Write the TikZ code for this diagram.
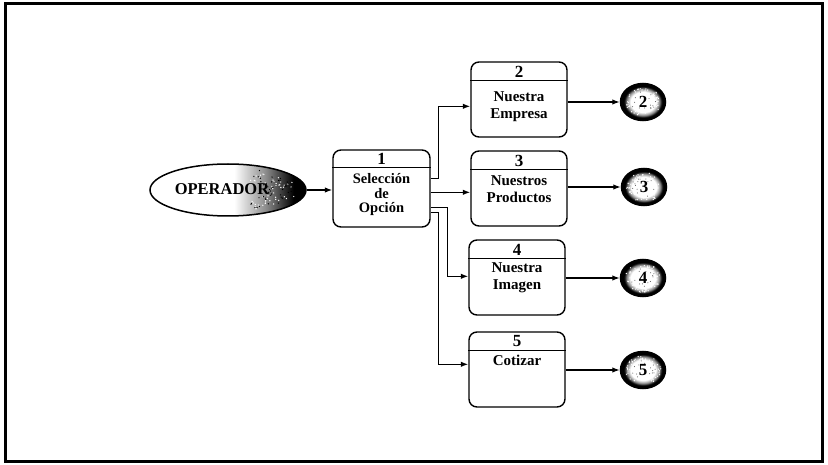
\documentclass[tikz,border=0pt]{standalone}
\usepackage{fontspec}
\setmainfont{Liberation Serif}
\usetikzlibrary{shapes.geometric,arrows.meta,calc}

% white on the left, darkening to black at the right tip
\pgfdeclarehorizontalshading{opshade}{100bp}{color(0bp)=(white); color(52bp)=(white); color(62bp)=(black!45); color(71bp)=(black); color(100bp)=(black)}
% white centre fading into a black ring
\pgfdeclareradialshading{burst}{\pgfpoint{0bp}{0bp}}{color(0bp)=(white); color(14bp)=(white); color(18bp)=(black!45); color(21bp)=(black); color(50bp)=(black)}

\begin{document}
\begin{tikzpicture}[x=1pt,y=-1pt,
  proc/.style={draw, line width=1.4pt, rounded corners=8pt, minimum width=96pt, minimum height=75pt, inner sep=0pt},
  lbl/.style={font=\fontsize{15}{17}\selectfont\bfseries, inner sep=0pt, align=center},
  num/.style={font=\fontsize{17}{17}\selectfont\bfseries, inner sep=0pt},
  divider/.style={line width=1.2pt},
  flow/.style={line width=1.3pt, -{Latex[length=7.5pt,width=5.5pt]}},
  term/.style={ellipse, draw, line width=1.5pt, shading=burst, minimum width=45pt, minimum height=37pt, inner sep=0pt},
  termnum/.style={font=\fontsize{17}{17}\selectfont\bfseries, inner sep=0pt}
]
\useasboundingbox (0,0) rectangle (828,465);
\fill[white] (0,0) rectangle (828,465);
\draw[line width=3pt] (5,4) rectangle (822,461);
\pgfmathsetseed{11}

% external entity
\node[ellipse, draw, line width=1.5pt, shading=opshade, minimum width=156pt, minimum height=52pt] (op) at (228,190) {};
\foreach \i in {1,...,90}{
  \pgfmathsetmacro\ang{-65+130*rnd}
  \pgfmathsetmacro\rad{0.5+0.42*rnd}
  \pgfmathsetmacro\shade{rnd>0.5 ? 100 : 0}
  \fill[black!\shade!white] ($(op.center)+(\ang:{\rad*76pt} and {\rad*24pt})$) circle (0.7pt);
}
\node[font=\fontsize{16.5}{16.5}\selectfont\bfseries, inner sep=0pt] (opt) at (222,189) {OPERADOR};

% processes
\node[proc, minimum width=97pt, minimum height=77pt] (b1) at (381.5,188.5) {};
\node[proc] (b2) at (519,99.5) {};
\node[proc] (b3) at (519,188.5) {};
\node[proc] (b4) at (517,277.5) {};
\node[proc] (b5) at (517,369.5) {};

\draw[divider] ($(b1.north west)+(0,18)$) -- ($(b1.north east)+(0,18)$);
\foreach \b in {b2,b3,b4,b5}
  \draw[divider] ($(\b.north west)+(0,19)$) -- ($(\b.north east)+(0,19)$);

\node[num] (n1) at (381.5,159) {1};
\node[lbl, font=\fontsize{14.5}{14.5}\selectfont\bfseries] (t1) at (381.5,195) {Selección\\de\\Opción};
\node[num] (n2) at (519,72) {2};
\node[lbl] (t2) at (519,107) {Nuestra\\Empresa};
\node[num] (n3) at (519,160.5) {3};
\node[lbl] (t3) at (519,189) {Nuestros\\Productos};
\node[num] (n4) at (517,249.5) {4};
\node[lbl] (t4) at (517,278) {Nuestra\\Imagen};
\node[num] (n5) at (517,341.5) {5};
\node[lbl] (t5) at (517,360) {Cotizar};

% off-page connectors
\node[term] (c2) at (643,102) {};
\node[term] (c3) at (644,187) {};
\node[term] (c4) at (643,278) {};
\node[term] (c5) at (643,370) {};
\foreach \c in {c2,c3,c4,c5}{
  \foreach \i in {1,...,50}{
    \pgfmathsetmacro\ang{360*rnd}
    \pgfmathsetmacro\rad{0.6+0.25*rnd}
    \fill[white] ($(\c.center)+(\ang:{\rad*21pt} and {\rad*17pt})$) circle (0.7pt);
  }
  \foreach \i in {1,...,14}{
    \pgfmathsetmacro\ang{360*rnd}
    \pgfmathsetmacro\rad{0.35+0.25*rnd}
    \fill[black!70] ($(\c.center)+(\ang:{\rad*21pt} and {\rad*17pt})$) circle (0.5pt);
  }
}
\node[termnum] (k2) at (c2) {2};
\node[termnum] (k3) at (c3) {3};
\node[termnum] (k4) at (c4) {4};
\node[termnum] (k5) at (c5) {5};

% flows
\draw[flow] (op.east) -- (op.east -| b1.west);
\draw[flow] ($(b1.north east)+(0,29)$) -- ++(8,0) |- ($(b2.north west)+(0,45)$);
\draw[flow] ($(b1.north east)+(0,43)$) -- ($(b3.north west)+(0,42)$);
\draw[flow] ($(b1.north east)+(0,58)$) -- ++(17,0) |- ($(b4.north west)+(0,37)$);
\draw[flow] ($(b1.north east)+(0,63)$) -- ++(8,0) |- ($(b5.north west)+(0,33)$);

\draw[flow] (c2 -| b2.east) -- (c2.west);
\draw[flow] (c3 -| b3.east) -- (c3.west);
\draw[flow] (c4 -| b4.east) -- (c4.west);
\draw[flow] (c5 -| b5.east) -- (c5.west);
\end{tikzpicture}
\end{document}
